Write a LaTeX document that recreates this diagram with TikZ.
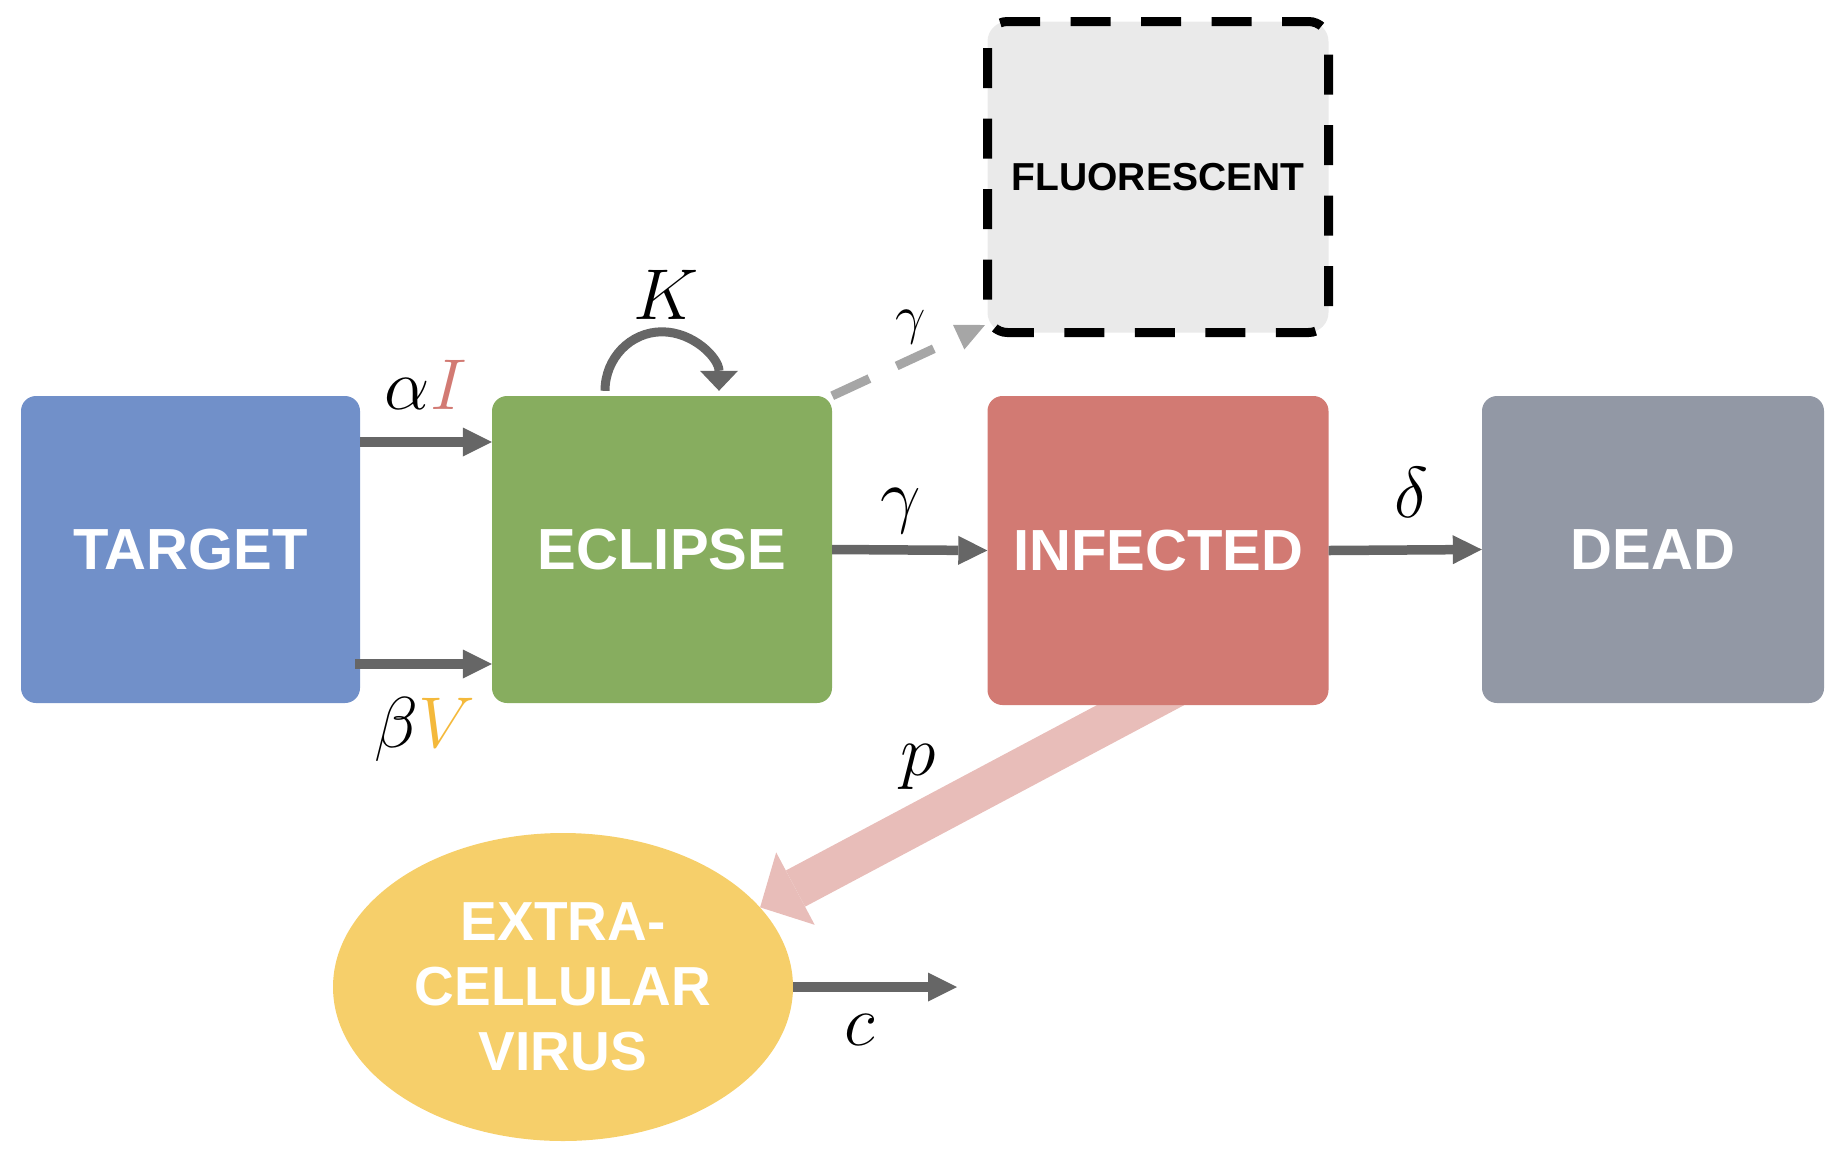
\RequirePackage{fix-cm}
\documentclass[tikz,border=0pt]{standalone}
\usepackage{fontspec}
\newfontfamily\arialf{Liberation Sans}
\usetikzlibrary{arrows.meta,shapes.geometric,calc}
\pgfdeclarelayer{background}
\pgfsetlayers{background,main}
\definecolor{tarcol}{HTML}{7190C9}
\definecolor{eclcol}{HTML}{87AD5F}
\definecolor{infcol}{HTML}{D27A73}
\definecolor{deadcol}{HTML}{9298A5}
\definecolor{flucol}{HTML}{EAEAEA}
\definecolor{ellcol}{HTML}{F6CF6A}
\definecolor{arrgray}{HTML}{666666}
\definecolor{dashgray}{HTML}{A6A6A6}
\definecolor{pinkcol}{HTML}{E8BDB9}
\definecolor{Icol}{HTML}{D27A73}
\definecolor{Vcol}{HTML}{F4B93B}
\begin{document}
\begin{tikzpicture}[x=1pt,y=-1pt,
  box/.style={rectangle, rounded corners=15pt, inner sep=0pt, text=white,
    minimum height=307pt, font=\arialf\bfseries\fontsize{58}{70}\selectfont},
  garrow/.style={color=arrgray, line width=9.5pt,
    -{Triangle[width=29pt,length=29pt,line width=0pt]}},
  mlab/.style={inner sep=0pt, font=\fontsize{72}{86}\selectfont},
]
\useasboundingbox (0,0) rectangle (1846,1160);
% boxes
\node[box, fill=tarcol, minimum width=339pt] (tar) at (190.5,549.5) {TARGET};
\node[box, fill=eclcol, minimum width=340pt] (ecl) at (662,549.5) {ECLIPSE};
\node[box, fill=infcol, minimum width=341pt, minimum height=309pt] (inf) at (1158,550.5) {INFECTED};
\node[box, fill=deadcol, minimum width=342pt] (dead) at (1653,549.5) {DEAD};
\node[rectangle, rounded corners=20pt, fill=flucol, draw=black, line width=9pt,
  dash pattern=on 40pt off 30.5pt, dash phase=13.5pt,
  minimum width=341pt, minimum height=311pt, inner sep=0pt,
  font=\arialf\bfseries\fontsize{39}{47}\selectfont] (flu) at (1158,177) {FLUORESCENT};
\node[ellipse, fill=ellcol, minimum width=460pt, minimum height=308pt, inner sep=0pt,
  align=center, text=white, font=\arialf\bfseries\fontsize{55}{65}\selectfont]
  (ell) at (563,987) {EXTRA-\\CELLULAR\\VIRUS};
% connectors
\begin{pgfonlayer}{background}
\draw[color=pinkcol, line width=41pt,
  -{Triangle[width=82pt,length=40pt,line width=0pt]}]
  ([xshift=67pt,yshift=45pt]inf.south) -- (ell.22.6);
\end{pgfonlayer}
\draw[garrow] ([yshift=107.5pt]tar.east) -- ([yshift=107.5pt]ecl.west);
\draw[garrow] ([xshift=-5pt,yshift=-114.5pt]tar.east) -- ([yshift=-114.5pt]ecl.west);
\draw[garrow] (ecl.east) -- (inf.west);
\draw[garrow] (inf.east) -- (dead.west);
\coordinate (cend) at (957,987);
\draw[garrow] (ell.east) -- (cend);
\draw[color=arrgray, line width=9pt, -{Triangle[width=38pt,length=20pt,line width=0pt]}]
  ([xshift=-57pt,yshift=5pt]ecl.north) arc[start angle=180, end angle=0, x radius=57pt, y radius=59pt];
\draw[color=dashgray, line width=9pt, dash pattern=on 41pt off 30pt,
  -{Triangle[width=27pt,length=29pt,line width=0pt]}]
  (ecl.north east) -- ([xshift=2pt,yshift=12pt]flu.south west);
% labels
\node[mlab] (lai) at (426,385) {$\alpha\textcolor{Icol}{I}$};
\node[mlab] (lbv) at (425,729) {$\beta\textcolor{Vcol}{V}$};
\node[mlab] (lk) at (666,294.5) {$K$};
\node[mlab, font=\fontsize{54}{65}\selectfont] (lg1) at (911,327.5) {$\gamma$};
\node[mlab] (lg2) at (901,511) {$\gamma$};
\node[mlab] (ld) at (1411.5,492.5) {$\delta$};
\node[mlab] (lp) at (918.5,766.5) {$p$};
\node[mlab] (lc) at (859.5,1029.5) {$c$};
\end{tikzpicture}
\end{document}
